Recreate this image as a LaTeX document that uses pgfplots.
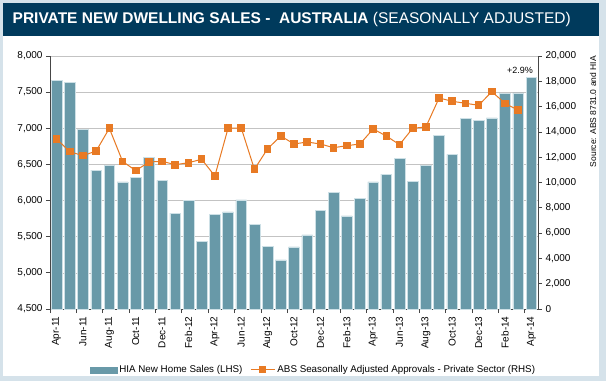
\documentclass[border=0pt]{standalone}
\usepackage{pgfplots}
\pgfplotsset{compat=1.18}
\usepackage{fontspec}
\setmainfont{Liberation Sans}
\definecolor{framec}{RGB}{213,226,234}
\definecolor{titlec}{RGB}{0,58,92}
\definecolor{barc}{RGB}{104,153,168}
\definecolor{baredge}{RGB}{205,224,230}
\definecolor{orangec}{RGB}{232,122,36}
\definecolor{axisc}{RGB}{70,70,70}
\definecolor{gridc}{RGB}{195,195,195}
\pgfplotsset{mylinelegend/.style={legend image code/.code={\draw[##1] (0pt,0pt) -- (24pt,0pt);
    \draw[##1, mark size=3pt] plot coordinates {(12pt,0pt)};}}}
\begin{document}
\begin{tikzpicture}
\useasboundingbox (0pt,0pt) rectangle (606pt,381pt);
\fill[framec] (0pt,0pt) rectangle (606pt,381pt);
\fill[white] (3pt,5pt) rectangle (599pt,345pt);
\fill[titlec] (3pt,345pt) rectangle (599pt,378pt);
\node[anchor=base west, text=white, font=\fontsize{15.5}{18}\selectfont, inner sep=0pt] at (12.5pt,357pt) {\textbf{PRIVATE NEW DWELLING SALES -\ \ AUSTRALIA} (SEASONALLY ADJUSTED)};

\begin{axis}[
  at={(50pt,72pt)}, anchor=south west,
  width=488pt, height=253pt, scale only axis,
  xmin=-0.5, xmax=36.5, ymin=4500, ymax=8000,
  axis x line*=bottom, axis y line*=left,
  axis line style={draw=axisc, line width=0.8pt, -},
  ytick={4500,5000,...,8000},
  ymajorgrids, grid style={gridc, line width=0.6pt},
  xtick={0,2,...,36},
  xticklabels={Apr-11,Jun-11,Aug-11,Oct-11,Dec-11,Feb-12,Apr-12,Jun-12,Aug-12,Oct-12,Dec-12,Feb-13,Apr-13,Jun-13,Aug-13,Oct-13,Dec-13,Feb-14,Apr-14},
  minor xtick={-0.5,1.5,...,35.5},
  major x tick style={draw=none},
  tick align=outside,
  major tick length=4pt, minor tick length=4pt,
  tick style={draw=axisc, line width=0.8pt},
  xticklabel style={rotate=90, anchor=east, font=\fontsize{10}{12}\selectfont},
  yticklabel style={font=\fontsize{10}{12}\selectfont},
  /pgf/number format/assume math mode=true,
  /pgf/number format/1000 sep={,},
  scaled y ticks=false,
]
\addplot[ybar, bar width=0.81, bar shift=0pt, fill=barc, draw=baredge, line width=0.5pt] coordinates {
(0,7665) (1,7640) (2,6985) (3,6420) (4,6490) (5,6260) (6,6325) (7,6600) (8,6280)
(9,5825) (10,6000) (11,5435) (12,5805) (13,5845) (14,6010) (15,5670) (16,5370)
(17,5180) (18,5360) (19,5525) (20,5865) (21,6115) (22,5790) (23,6030) (24,6260)
(25,6365) (26,6580) (27,6270) (28,6485) (29,6900) (30,6640) (31,7140) (32,7110)
(33,7145) (34,7480) (35,7490) (36,7705)
};
\end{axis}

\begin{axis}[
  at={(50pt,72pt)}, anchor=south west,
  width=488pt, height=253pt, scale only axis,
  xmin=-0.5, xmax=36.5, ymin=0, ymax=20000,
  axis x line=none, axis y line*=right,
  axis line style={draw=axisc, line width=0.8pt, -},
  xtick=\empty,
  ytick={0,2000,...,20000},
  tick align=outside, major tick length=4pt,
  tick style={draw=axisc, line width=0.8pt},
  yticklabel style={font=\fontsize{10}{12}\selectfont},
  /pgf/number format/assume math mode=true,
  /pgf/number format/1000 sep={,},
  scaled y ticks=false,
  legend columns=2,
  legend style={draw=none, fill=none, at={(0.54,-0.241)}, anchor=center,
    font=\fontsize{9.8}{11}\selectfont,
    /tikz/every even column/.append style={column sep=6pt}},
]
\addlegendimage{legend image code/.code={\fill[barc] (0pt,-2.8pt) rectangle (27pt,2.8pt);}}
\addlegendentry{HIA New Home Sales (LHS)}
\addplot[orangec, line width=1pt, mark=square*, mark size=3.3pt,
  mark options={fill=orangec, draw=orangec}, mylinelegend] coordinates {
(0,13440) (1,12435) (2,12120) (3,12490) (4,14285) (5,11675) (6,10935) (7,11620)
(8,11675) (9,11405) (10,11565) (11,11835) (12,10515) (13,14285) (14,14310)
(15,11045) (16,12670) (17,13675) (18,13045) (19,13200) (20,13045) (21,12750)
(22,12910) (23,13045) (24,14230) (25,13675) (26,12990) (27,14285) (28,14390)
(29,16680) (30,16420) (31,16260) (32,16105) (33,17180) (34,16260) (35,15710)
};
\addlegendentry{ABS Seasonally Adjusted Approvals - Private Sector (RHS)}
\end{axis}

\node[rotate=90, anchor=east, font=\fontsize{8.5}{10}\selectfont, inner sep=0pt] at (593pt,325pt) {Source: ABS 8731.0 and HIA};
\node[font=\fontsize{9}{11}\selectfont, inner sep=0pt] at (520pt,311pt) {+2.9\%};
\end{tikzpicture}
\end{document}
